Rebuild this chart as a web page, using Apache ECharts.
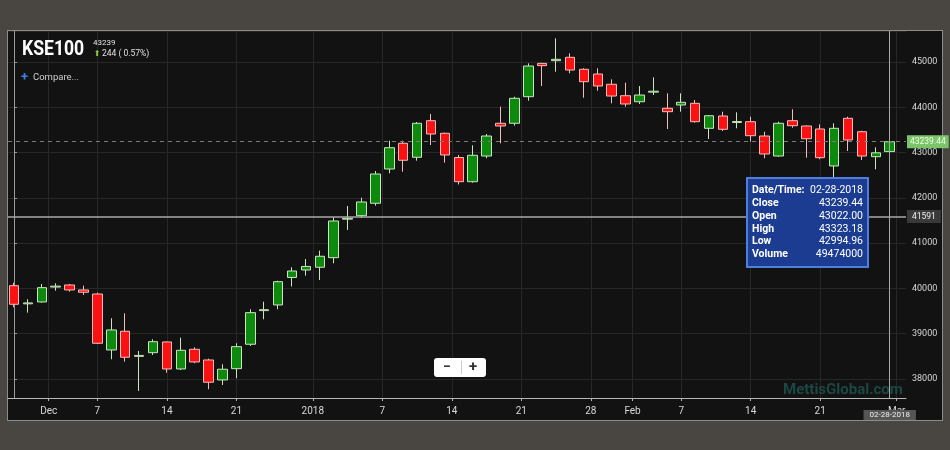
<!DOCTYPE html>
<html>
<head>
<meta charset="utf-8">
<title>KSE100</title>
<script src="https://cdn.jsdelivr.net/npm/echarts@6/dist/echarts.min.js"></script>
<style>
  html, body { margin: 0; padding: 0; background: #494642; }
  .frame { position: absolute; left: 7px; top: 30px; width: 934px; height: 389px; border: 1px solid #8c8b88; background: #121212; }
  #chart { position: absolute; left: 0; top: 0; width: 950px; height: 450px; }
</style>
</head>
<body>
<div class="frame"></div>
<div id="chart"></div>
<script>
  // trading days shown on the chart
  var dates = [
    '2017-11-29', '2017-11-30', '2017-12-01', '2017-12-04', '2017-12-05', '2017-12-06', '2017-12-07', '2017-12-08',
    '2017-12-11', '2017-12-12', '2017-12-13', '2017-12-14', '2017-12-15', '2017-12-18', '2017-12-19', '2017-12-20',
    '2017-12-21', '2017-12-22', '2017-12-26', '2017-12-27', '2017-12-28', '2017-12-29', '2018-01-01', '2018-01-02',
    '2018-01-03', '2018-01-04', '2018-01-05', '2018-01-08', '2018-01-09', '2018-01-10', '2018-01-11', '2018-01-12',
    '2018-01-15', '2018-01-16', '2018-01-17', '2018-01-18', '2018-01-19', '2018-01-22', '2018-01-23', '2018-01-24',
    '2018-01-25', '2018-01-26', '2018-01-29', '2018-01-30', '2018-01-31', '2018-02-01', '2018-02-02', '2018-02-06',
    '2018-02-07', '2018-02-08', '2018-02-09', '2018-02-12', '2018-02-13', '2018-02-14', '2018-02-15', '2018-02-16',
    '2018-02-19', '2018-02-20', '2018-02-21', '2018-02-22', '2018-02-23', '2018-02-26', '2018-02-27', '2018-02-28'
  ]
  var opens = [
    40061, 39660, 39701, 40030, 40076, 39966, 39877, 38641, 39054, 38500, 38581, 38818, 38221, 38656, 38420, 37979,
    38228, 38767, 39510, 39635, 40242, 40407, 40467, 40679, 41530, 41606, 41880, 42637, 43205, 42896, 43704, 43426,
    42891, 42357, 42924, 43647, 43647, 44234, 44970, 45030, 45104, 44839, 44735, 44508, 44256, 44123, 44335, 43978,
    44051, 44088, 43536, 43808, 43665, 43682, 43366, 42924, 43704, 43587, 43521, 42704, 43757, 43461, 42909, 43022.00
  ]
  var closes = [
    39650, 39680, 40017, 40050, 39966, 39915, 38789, 39083, 38480, 38520, 38824, 38221, 38634, 38376, 37928, 38215,
    38714, 39465, 39530, 40149, 40385, 40485, 40710, 41489, 41550, 41909, 42527, 43108, 42830, 43647, 43410, 42947,
    42357, 42940, 43366, 43587, 44199, 44912, 44920, 45060, 44823, 44565, 44470, 44249, 44073, 44271, 44355, 43903,
    44110, 43682, 43814, 43514, 43685, 43373, 42969, 43647, 43594, 43306, 42887, 43536, 43278, 42924, 42995, 43239.44
  ]
  var lows = [
    39584, 39465, 39686, 39950, 39928, 39855, 38773, 38436, 38383, 37736, 38531, 38140, 38199, 38347, 37773, 37868,
    38016, 38729, 39319, 39540, 40043, 40282, 40187, 40555, 41291, 41562, 41827, 42543, 42578, 42821, 43167, 42777,
    42295, 42335, 42874, 43205, 43594, 44145, 44470, 44786, 44750, 44212, 44366, 44088, 44013, 44073, 44271, 43521,
    43903, 43660, 43300, 43476, 43536, 43240, 42874, 42909, 43549, 42887, 42852, 42395, 43035, 42836, 42631, 42994.96
  ]
  var highs = [
    40127, 39760, 40098, 40114, 40098, 40061, 39906, 39341, 39451, 38619, 38877, 38830, 38913, 38700, 38449, 38325,
    38789, 39540, 39707, 40170, 40467, 40650, 40834, 41571, 41820, 42004, 42593, 43262, 43262, 43675, 43852, 43440,
    42947, 43161, 43410, 44013, 44234, 44971, 44980, 45523, 45192, 44861, 44861, 44618, 44543, 44470, 44662, 44309,
    44309, 44161, 43830, 43903, 43889, 43792, 43461, 43682, 43956, 43600, 43624, 43647, 43792, 43483, 43117, 43323.18
  ]
  var lastVolume = 49474000

  // x axis labels (position in trading-day index)
  var tickPos = [2.5, 6, 11, 16, 21.5, 26.5, 31.5, 36.5, 41.5, 44.5, 48, 53, 58, 63.5]
  var tickLabels = ['Dec', '7', '14', '21', '2018', '7', '14', '21', '28', 'Feb', '7', '14', '21', 'Mar']

  // crosshair value on the price axis
  var crossValue = 41591

  var last = closes.length - 1
  function fmtDate(s) {
    var p = s.split('-')
    return p[1] + '-' + p[2] + '-' + p[0]
  }

  var candleData = dates.map(function (d, i) {
    return [i, opens[i], closes[i], lows[i], highs[i]]
  })

  var change = closes[last] - closes[last - 1]
  var changePct = change / closes[last - 1] * 100

  var tipRows = [
    ['Date/Time:', fmtDate(dates[last])],
    ['Close', closes[last].toFixed(2)],
    ['Open', opens[last].toFixed(2)],
    ['High', highs[last].toFixed(2)],
    ['Low', lows[last].toFixed(2)],
    ['Volume', String(lastVolume)]
  ]

  var tipChildren = [{
    type: 'rect',
    z: 200,
    shape: { x: 0, y: 0, width: 121, height: 89 },
    style: { fill: '#1c3c92', stroke: '#4f7fdc', lineWidth: 2 }
  }]
  tipRows.forEach(function (r, i) {
    tipChildren.push({
      type: 'text',
      z: 201,
      style: { text: r[0], x: 5, y: 12.5 + i * 12.8, fill: '#fff', font: 'bold 10.5px Roboto', textVerticalAlign: 'middle' }
    })
    tipChildren.push({
      type: 'text',
      z: 201,
      style: { text: r[1], x: 116, y: 12.5 + i * 12.8, fill: '#fff', font: '10.5px Roboto', textAlign: 'right', textVerticalAlign: 'middle' }
    })
  })

  var myChart = echarts.init(document.getElementById('chart'))

  var chartOption = {
    animation: false,
    backgroundColor: 'transparent',
    grid: { left: 8, right: 44, top: 31, bottom: 52 },
    xAxis: {
      type: 'value',
      min: -0.43,
      max: 64.17,
      axisLine: { lineStyle: { color: '#b8b8b8' } },
      axisTick: { show: true, length: 3, customValues: tickPos, lineStyle: { color: '#b8b8b8' } },
      axisLabel: {
        customValues: tickPos,
        color: '#d8d8d8',
        fontSize: 10,
        fontFamily: 'Roboto',
        margin: 8,
        formatter: function (v) {
          var k = tickPos.indexOf(v)
          return k >= 0 ? tickLabels[k] : ''
        }
      },
      splitLine: { show: true, lineStyle: { color: '#272727' } }
    },
    yAxis: {
      type: 'value',
      position: 'right',
      scale: true,
      min: 37580,
      max: 45685,
      splitNumber: 8,
      axisLine: { show: true, lineStyle: { color: '#9a9a9a' } },
      axisTick: { show: true, length: 3, lineStyle: { color: '#9a9a9a' } },
      axisLabel: {
        color: '#d8d8d8', fontSize: 9, fontFamily: 'Roboto', margin: 6, showMinLabel: false, showMaxLabel: false,
        formatter: function (v) { return String(v) }
      },
      splitLine: { show: true, lineStyle: { color: '#272727' } }
    },
    series: [
      {
        type: 'candlestick',
        data: candleData,
        barWidth: 10,
        itemStyle: {
          color: '#0d8a0d',
          color0: '#fa1212',
          borderColor: '#c9e6c1',
          borderColor0: '#f4bcbc',
          borderWidth: 1
        },
        markLine: {
          silent: true,
          symbol: 'none',
          animation: false,
          data: [
            {
              yAxis: closes[last],
              lineStyle: { color: '#7a7a7a', type: [4, 4], width: 1 },
              label: {
                position: 'end', distance: 1, formatter: closes[last].toFixed(2),
                backgroundColor: '#7cc46a', color: '#eaffe4', fontSize: 8.5, fontFamily: 'Roboto', padding: [2, 3]
              }
            },
            {
              yAxis: crossValue,
              lineStyle: { color: '#a8a8a8', type: 'solid', width: 1.5 },
              label: {
                position: 'end', distance: 1, formatter: String(crossValue),
                backgroundColor: '#3a3a3a', color: '#f0f0f0', fontSize: 8.5, fontFamily: 'Roboto', padding: [2, 5]
              }
            },
            {
              xAxis: last,
              lineStyle: { color: '#a8a8a8', type: 'solid', width: 1 },
              label: {
                position: 'start', distance: 12, formatter: fmtDate(dates[last]),
                backgroundColor: '#555555', color: '#f0f0f0', fontSize: 8, fontFamily: 'Roboto', padding: [1, 6]
              }
            }
          ]
        }
      }
    ],
    graphic: [
      {
        type: 'text', z: 100, x: 22, y: 50, scaleX: 0.88,
        style: { text: 'KSE100', x: 0, y: 0, fill: '#ffffff', font: 'bold 20px Roboto', textVerticalAlign: 'middle' }
      },
      { type: 'text', z: 100, style: { text: String(Math.floor(closes[last])), x: 93, y: 43, fill: '#e0e0e0', font: '8px Roboto', textVerticalAlign: 'middle' } },
      { type: 'text', z: 100, style: { text: '\u2B06', x: 94, y: 54, fill: '#86d23a', font: '8px "DejaVu Sans"', textVerticalAlign: 'middle' } },
      { type: 'text', z: 100, style: { text: Math.round(change) + ' ( ' + changePct.toFixed(2) + '%)', x: 102, y: 54, fill: '#e0e0e0', font: '8.5px Roboto', textVerticalAlign: 'middle' } },
      { type: 'text', z: 100, style: { text: '+', x: 21, y: 78, fill: '#3d7fe6', font: 'bold 13px Roboto', textVerticalAlign: 'middle' } },
      { type: 'text', z: 100, style: { text: 'Compare...', x: 33, y: 78, fill: '#cfcfcf', font: '9.5px Roboto', textVerticalAlign: 'middle' } },
      // zoom buttons
      { type: 'rect', z: 100, shape: { x: 434, y: 358, width: 52, height: 19, r: 3 }, style: { fill: '#ffffff' } },
      { type: 'line', z: 101, shape: { x1: 461.5, y1: 361, x2: 461.5, y2: 374 }, style: { stroke: '#cccccc', lineWidth: 1 } },
      { type: 'text', z: 101, style: { text: '\u2212', x: 447, y: 367.5, fill: '#333', font: 'bold 14px Roboto', textAlign: 'center', textVerticalAlign: 'middle' } },
      { type: 'text', z: 101, style: { text: '+', x: 473, y: 367.5, fill: '#333', font: 'bold 15px Roboto', textAlign: 'center', textVerticalAlign: 'middle' } },
      // watermark
      { type: 'text', z: 1, style: { text: 'MettisGlobal.com', x: 783, y: 390, fill: '#1b4844', font: 'bold 15px Roboto', textVerticalAlign: 'middle' } },
      // fixed tooltip box
      { type: 'group', z: 200, x: 747, y: 178, children: tipChildren }
    ]
  }

  myChart.setOption(chartOption)
</script>
</body>
</html>
